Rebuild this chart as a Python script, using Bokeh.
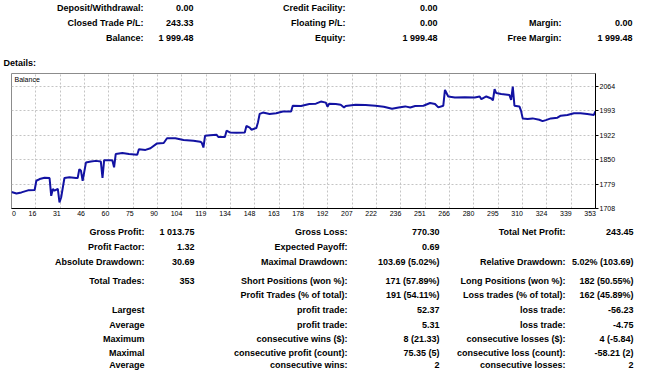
from bokeh.plotting import figure
from bokeh.models import Range1d, FixedTicker, CustomJSTickFormatter, Label
from bokeh.layouts import column
from bokeh.embed import file_html
from bokeh.resources import INLINE
from bokeh.core.properties import value

# ---------------- data ----------------
summary_labels_1 = ["Deposit/Withdrawal:", "Closed Trade P/L:", "Balance:"]
summary_values_1 = ["0.00", "243.33", "1 999.48"]
summary_labels_2 = ["Credit Facility:", "Floating P/L:", "Equity:"]
summary_values_2 = ["0.00", "0.00", "1 999.48"]
summary_labels_3 = ["", "Margin:", "Free Margin:"]
summary_values_3 = ["", "0.00", "1 999.48"]

stats_labels_1 = ["Gross Profit:", "Profit Factor:", "Absolute Drawdown:", "Total Trades:", "",
                  "Largest", "Average", "Maximum", "Maximal", "Average"]
stats_values_1 = ["1 013.75", "1.32", "30.69", "353", "", "", "", "", "", ""]
stats_labels_2 = ["Gross Loss:", "Expected Payoff:", "Maximal Drawdown:", "Short Positions (won %):",
                  "Profit Trades (% of total):", "profit trade:", "profit trade:",
                  "consecutive wins ($):", "consecutive profit (count):", "consecutive wins:"]
stats_values_2 = ["770.30", "0.69", "103.69 (5.02%)", "171 (57.89%)", "191 (54.11%)",
                  "52.37", "5.31", "8 (21.33)", "75.35 (5)", "2"]
stats_labels_3 = ["Total Net Profit:", "", "Relative Drawdown:", "Long Positions (won %):",
                  "Loss trades (% of total):", "loss trade:", "loss trade:",
                  "consecutive losses ($):", "consecutive loss (count):", "consecutive losses:"]
stats_values_3 = ["243.45", "", "5.02% (103.69)", "182 (50.55%)", "162 (45.89%)",
                  "-56.23", "-4.75", "4 (-5.84)", "-58.21 (2)", "2"]

x_tick_labels = ["0", "16", "31", "46", "60", "75", "90", "104", "119", "134", "148", "163", "178",
                 "192", "207", "222", "236", "251", "266", "280", "295", "310", "324", "339", "353"]
y_tick_values = [1708.0, 1779.2, 1850.4, 1921.6, 1992.8, 2064.0]

trades = [0, 3, 6, 10, 14, 15, 17, 20, 23, 24, 25, 26, 28, 29, 30, 32, 35, 39, 40, 41, 42, 43, 45,
          48, 51, 54, 55, 56, 60, 61, 62, 63, 67, 71, 76, 77, 81, 84, 88, 92, 94, 99, 104, 110,
          114, 115, 116, 117, 120, 124, 125, 129, 130, 132, 136, 141, 142, 144, 145, 148, 149,
          150, 152, 156, 160, 164, 169, 170, 175, 180, 184, 187, 190, 191, 192, 196, 199, 201,
          202, 208, 214, 220, 225, 230, 234, 238, 241, 244, 249, 253, 256, 258, 261, 262, 264,
          268, 274, 280, 283, 284, 287, 290, 291, 292, 293, 296, 301, 302, 303, 304, 307, 308,
          309, 312, 315, 319, 321, 323, 326, 330, 332, 336, 340, 344, 348, 352, 353]
balance = [1756, 1752, 1755, 1761, 1762, 1789, 1794, 1798, 1797, 1745, 1765, 1760, 1765, 1726,
           1740, 1797, 1799, 1797, 1797, 1823, 1818, 1789, 1842, 1845, 1847, 1845, 1797, 1849,
           1849, 1848, 1828, 1867, 1870, 1867, 1865, 1881, 1879, 1884, 1898, 1899, 1913, 1913,
           1908, 1906, 1903, 1900, 1886, 1920, 1922, 1923, 1917, 1917, 1935, 1930, 1929, 1930,
           1949, 1944, 1938, 1943, 1960, 1984, 1988, 1984, 1986, 1991, 1991, 2008, 2007, 2013,
           2014, 2020, 2017, 2005, 2014, 2013, 2011, 2003, 2007, 2011, 2010, 2008, 2005, 1999,
           2003, 2006, 2003, 2007, 2008, 2016, 2013, 2003, 2008, 2054, 2035, 2032, 2033, 2032,
           2035, 2027, 2035, 2029, 2024, 2056, 2045, 2042, 2039, 2025, 2064, 2008, 2006, 1993,
           1971, 1969, 1971, 1967, 1963, 1966, 1971, 1973, 1979, 1981, 1986, 1986, 1984, 1981,
           1992]

# ---------------- style / layout ----------------
FONT = "Liberation Sans"
W = 634
TOTAL_H = 370
BOLD_SIZE = "9px"
ML, MR = 11, 39          # frame borders shared by every panel (column aligns frames)


def text_panel(height, rows_y, columns):
    # frame spans pixel columns ML..W-MR, so data x == pixel x
    f = figure(width=W, height=height, x_range=Range1d(ML, W - MR), y_range=Range1d(height, 0),
               output_backend="svg", toolbar_location=None,
               x_axis_location=None, y_axis_location=None,
               min_border_left=ML, min_border_right=MR, min_border_top=0, min_border_bottom=0,
               outline_line_color=None)
    f.xgrid.visible = False
    f.ygrid.visible = False
    for x, texts, align in columns:
        xs, ys, ts = [], [], []
        for yy, t in zip(rows_y, texts):
            if t:
                xs.append(x)
                ys.append(yy)
                ts.append(t)
        f.text(x=xs, y=ys, text=ts, text_align=align, text_baseline="middle",
               text_font=value(FONT), text_font_style="bold", text_font_size=BOLD_SIZE,
               text_color="#000000", level="overlay")
    return f


# header panel
hdr_h = 68
hdr = text_panel(hdr_h, [7, 22, 37], [
    (143, summary_labels_1, "right"), (193, summary_values_1, "right"),
    (345, summary_labels_2, "right"), (437, summary_values_2, "right"),
    (561, summary_labels_3, "right"), (632, summary_values_3, "right"),
])
hdr.text(x=[3], y=[62], text=["Details:"], text_align="left", text_baseline="middle",
         text_font=value(FONT), text_font_style="bold", text_font_size=BOLD_SIZE,
         level="overlay")

# chart
ch_h = 152
mt, mb = 5, 12
frame_w = W - ML - MR
x_end = 353
p = figure(width=W, height=ch_h, x_range=Range1d(0, x_end), y_range=Range1d(1708, 2102),
           output_backend="svg", toolbar_location=None, y_axis_location="right",
           min_border_left=ML, min_border_right=MR, min_border_top=mt, min_border_bottom=mb)
p.outline_line_color = "#8c8c8c"
p.background_fill_color = "white"

p.line(trades, balance, line_color="#1212A2", line_width=2)

step = x_end / (len(x_tick_labels) - 1)
data_per_px = x_end / frame_w
digit_w = 7 * 0.556
label_pos = []
for k, lab in enumerate(x_tick_labels):
    if k == 0:
        label_pos.append(2.5 * data_per_px)
    else:
        label_pos.append(k * step - (len(lab) * digit_w / 2 - 0.5) * data_per_px)
grid_pos = [k * step for k in range(1, len(x_tick_labels) - 1)]

p.xaxis.ticker = FixedTicker(ticks=label_pos)
p.xaxis.formatter = CustomJSTickFormatter(args=dict(pos=label_pos, labels=x_tick_labels), code="""
let b = 0;
for (let i = 0; i < pos.length; i++) { if (Math.abs(pos[i]-tick) < Math.abs(pos[b]-tick)) b = i; }
return labels[b];
""")
p.xaxis.major_tick_line_color = None
p.xaxis.major_tick_out = 0
p.xaxis.major_tick_in = 0
p.xaxis.minor_tick_line_color = None
p.xaxis.major_label_standoff = 2
p.xaxis.axis_line_color = "#000000"

p.yaxis.ticker = FixedTicker(ticks=y_tick_values)
p.yaxis.formatter = CustomJSTickFormatter(code="return Math.round(tick).toString();")
p.yaxis.major_tick_out = 3
p.yaxis.major_tick_in = 0
p.yaxis.minor_tick_line_color = None
p.yaxis.major_label_standoff = 1
p.yaxis.axis_line_color = "#000000"
p.yaxis.major_tick_line_color = "#000000"

for ax in (p.xaxis, p.yaxis):
    ax.major_label_text_font = FONT
    ax.major_label_text_font_size = "7px"
    ax.major_label_text_color = "#000000"

p.xgrid.ticker = FixedTicker(ticks=grid_pos)
p.ygrid.ticker = FixedTicker(ticks=y_tick_values[1:])
for g in (p.xgrid, p.ygrid):
    g.grid_line_color = "#c4c4c4"
    g.grid_line_dash = "2 2"
    g.grid_line_width = 1

p.add_layout(Label(x=0, y=2102, x_offset=3, y_offset=-2, text="Balance",
                   text_font=FONT, text_font_size="7px", text_baseline="top",
                   text_color="#000000"))

# stats panel
st_h = TOTAL_H - hdr_h - ch_h
stats = text_panel(st_h, [11, 26, 41, 60, 74, 89, 104, 118, 132, 144], [
    (144, stats_labels_1, "right"), (194, stats_values_1, "right"),
    (347, stats_labels_2, "right"), (439, stats_values_2, "right"),
    (565, stats_labels_3, "right"), (633, stats_values_3, "right"),
])

layout = column(hdr, p, stats, spacing=0)
open("out.html", "w").write(file_html(layout, INLINE))
